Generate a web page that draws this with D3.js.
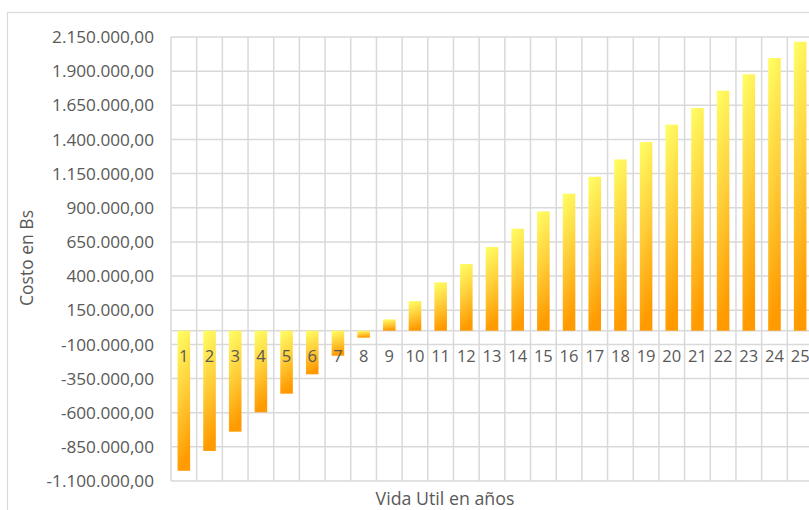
<!DOCTYPE html>
<html>
<head>
<meta charset="utf-8">
<script src="https://cdn.jsdelivr.net/npm/d3@7"></script>
<style>
  html, body { margin: 0; padding: 0; background: #ffffff; }
  svg { display: block; }
  text { font-family: "Open Sans", "Noto Sans", sans-serif; fill: #595959; }
</style>
</head>
<body>
<svg id="chart" width="809" height="510"></svg>
<script>
// ---- data ----
const categories = ["1","2","3","4","5","6","7","8","9","10","11","12","13","14","15","16","17","18","19","20","21","22","23","24","25"];
const costValues = [-1025000, -880000, -739000, -597000, -461000, -319000, -183000, -51000, 83000, 217000, 354000, 488000, 613000, 747000, 874000, 1003000, 1127000, 1254000, 1381000, 1508000, 1630000, 1757000, 1877000, 1996000, 2115000];
const yTickValues = [-1100000, -850000, -600000, -350000, -100000, 150000, 400000, 650000, 900000, 1150000, 1400000, 1650000, 1900000, 2150000];
const yTitle = "Costo en Bs";
const xTitle = "Vida Util en años";

// ---- layout ----
const svg = d3.select("#chart");
const plot = { left: 171, top: 37, right: 813, bottom: 481 };

const locale = d3.formatLocale({ decimal: ",", thousands: ".", grouping: [3], currency: ["", ""], minus: "-" });
const fmt = locale.format(",.2f");

const x = d3.scaleBand().domain(categories).range([plot.left, plot.right])
  .paddingInner(0.51).paddingOuter(0.255);
const y = d3.scaleLinear().domain([-1100000, 2150000]).range([plot.bottom, plot.top]);

// chart area border
svg.append("rect").attr("x", 7.5).attr("y", 12.5).attr("width", 900).attr("height", 600)
  .attr("fill", "none").attr("stroke", "#d9d9d9").attr("stroke-width", 1.2);

// gradient
const defs = svg.append("defs");
const grad = defs.append("linearGradient").attr("id", "barGrad")
  .attr("x1", 0).attr("y1", 0).attr("x2", 0.15).attr("y2", 1);
grad.append("stop").attr("offset", "0%").attr("stop-color", "#FFFF66");
grad.append("stop").attr("offset", "50%").attr("stop-color", "#FFCF3A");
grad.append("stop").attr("offset", "100%").attr("stop-color", "#FF9A00");

// horizontal gridlines
const g = svg.append("g");
g.selectAll("line.hgrid").data(yTickValues).enter().append("line")
  .attr("class", "hgrid")
  .attr("x1", plot.left).attr("x2", plot.right)
  .attr("y1", d => y(d)).attr("y2", d => y(d))
  .attr("stroke", "#d9d9d9").attr("stroke-width", 1.5);

// vertical gridlines at category boundaries
const half = (x.step() - x.bandwidth()) / 2;
const boundaries = categories.map(c => x(c) - half).concat([x(categories[categories.length - 1]) + x.bandwidth() + half]);
g.selectAll("line.vgrid").data(boundaries).enter().append("line")
  .attr("class", "vgrid")
  .attr("x1", d => d).attr("x2", d => d)
  .attr("y1", plot.top).attr("y2", plot.bottom)
  .attr("stroke", "#d9d9d9").attr("stroke-width", 1.5);

// zero axis line
g.append("line").attr("x1", plot.left).attr("x2", plot.right)
  .attr("y1", y(0)).attr("y2", y(0)).attr("stroke", "#d9d9d9").attr("stroke-width", 1.5);

// bars
svg.append("g").selectAll("rect").data(costValues).enter().append("rect")
  .attr("x", (d, i) => x(categories[i]))
  .attr("width", x.bandwidth())
  .attr("y", d => y(Math.max(0, d)))
  .attr("height", d => Math.abs(y(d) - y(0)))
  .attr("fill", "url(#barGrad)");

// y axis labels
svg.append("g").selectAll("text").data(yTickValues).enter().append("text")
  .attr("x", 154).attr("y", d => y(d)).attr("dy", "0.36em")
  .attr("text-anchor", "end").attr("font-size", "17.2px")
  .text(d => fmt(d));

// x axis labels
svg.append("g").selectAll("text").data(categories).enter().append("text")
  .attr("x", d => x(d) + x.bandwidth() / 2).attr("y", y(0) + 25)
  .attr("dy", "0.36em").attr("text-anchor", "middle").attr("font-size", "16.5px")
  .text(d => d);

// axis titles
svg.append("text").attr("transform", "translate(27,258) rotate(-90)")
  .attr("text-anchor", "middle").attr("dy", "0.36em").attr("font-size", "17.5px").text(yTitle);
svg.append("text").attr("x", 445).attr("y", 499).attr("dy", "0.36em")
  .attr("text-anchor", "middle").attr("font-size", "17.8px").text(xTitle);
</script>
</body>
</html>
